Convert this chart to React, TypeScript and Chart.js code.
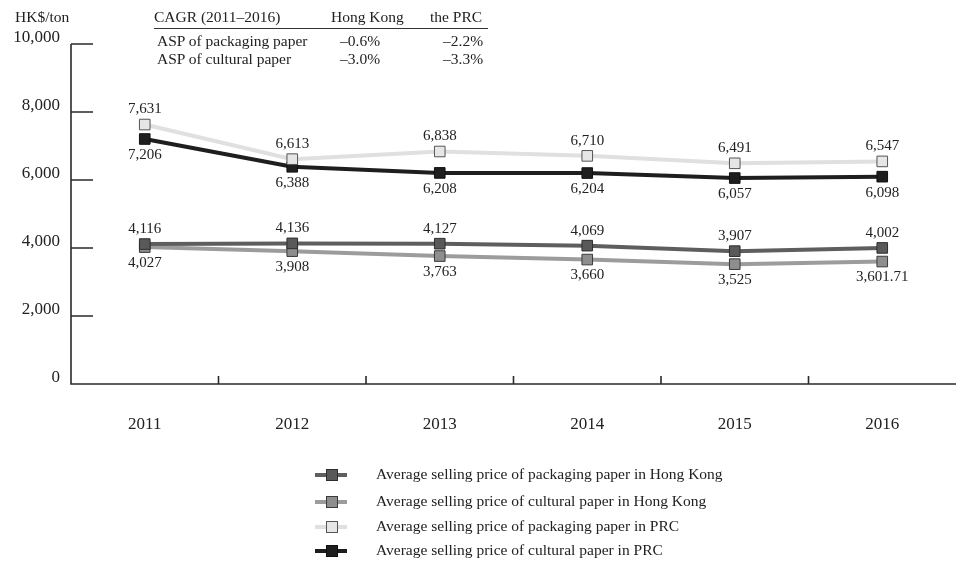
import React, { useEffect, useRef } from "react";
import { Chart, registerables } from "chart.js";

Chart.register(...registerables);

const categories = ["2011", "2012", "2013", "2014", "2015", "2016"];
const packagingHK = [4116, 4136, 4127, 4069, 3907, 4002];
const culturalHK = [4027, 3908, 3763, 3660, 3525, 3601.71];
const packagingPRC = [7631, 6613, 6838, 6710, 6491, 6547];
const culturalPRC = [7206, 6388, 6208, 6204, 6057, 6098];

const seriesNames = [
  "Average selling price of packaging paper in Hong Kong",
  "Average selling price of cultural paper in Hong Kong",
  "Average selling price of packaging paper in PRC",
  "Average selling price of cultural paper in PRC",
];
const yUnit = "HK$/ton";
const yMin = 0;
const yMax = 10000;
const yStep = 2000;

const cagrHeader = ["CAGR (2011–2016)", "Hong Kong", "the PRC"];
const cagrRowLabels = ["ASP of packaging paper", "ASP of cultural paper"];
const cagrHongKong = ["–0.6%", "–3.0%"];
const cagrPRC = ["–2.2%", "–3.3%"];

const SERIF = "'Liberation Serif', 'Times New Roman', serif";

const styles = [
  { line: "#5e5e5e", fill: "#595959", border: "#2e2e2e", above: true },
  { line: "#9c9c9c", fill: "#8e8e8e", border: "#3a3a3a", above: false },
  { line: "#e0e0e0", fill: "#e6e6e6", border: "#555555", above: true },
  { line: "#1e1e1e", fill: "#1e1e1e", border: "#111111", above: false },
];

const fmt = (v: number) => v.toLocaleString("en-US", { maximumFractionDigits: 2 });

const axesPlugin = {
  id: "customAxes",
  beforeDatasetsDraw(chart: any) {
    const { ctx, chartArea, scales } = chart;
    const x = scales.x;
    const y = scales.y;
    ctx.save();
    ctx.strokeStyle = "#2a2a2a";
    ctx.lineWidth = 1.6;
    ctx.beginPath();
    ctx.moveTo(chartArea.left, y.getPixelForValue(yMax));
    ctx.lineTo(chartArea.left, chartArea.bottom);
    ctx.lineTo(chartArea.right, chartArea.bottom);
    y.ticks.forEach((t: any) => {
      const py = y.getPixelForValue(t.value);
      ctx.moveTo(chartArea.left, py);
      ctx.lineTo(chartArea.left + 22, py);
    });
    for (let i = 0; i < categories.length - 1; i++) {
      const px = (x.getPixelForValue(i) + x.getPixelForValue(i + 1)) / 2;
      ctx.moveTo(px, chartArea.bottom);
      ctx.lineTo(px, chartArea.bottom - 8);
    }
    ctx.stroke();
    ctx.restore();
  },
  afterDatasetsDraw(chart: any) {
    const { ctx } = chart;
    ctx.save();
    ctx.font = `15px ${SERIF}`;
    ctx.fillStyle = "#222";
    ctx.textAlign = "center";
    ctx.textBaseline = "middle";
    chart.data.datasets.forEach((ds: any, i: number) => {
      const meta = chart.getDatasetMeta(i);
      meta.data.forEach((pt: any, j: number) => {
        const v = ds.data[j] as number;
        const dy = styles[i].above ? -15 : 16;
        ctx.fillText(fmt(v), pt.x, pt.y + dy);
      });
    });
    ctx.restore();
  },
};

function ChartCanvas() {
  const ref = useRef<HTMLCanvasElement | null>(null);
  useEffect(() => {
    if (!ref.current) return;
    const seriesData = [packagingHK, culturalHK, packagingPRC, culturalPRC];
    const chart = new Chart(ref.current, {
      type: "line",
      data: {
        labels: categories,
        datasets: seriesData.map((d, i) => ({
          label: seriesNames[i],
          data: d,
          borderColor: styles[i].line,
          backgroundColor: styles[i].fill,
          borderWidth: 4,
          pointStyle: "rect",
          pointRadius: 7.5,
          pointBorderWidth: 1,
          pointBackgroundColor: styles[i].fill,
          pointBorderColor: styles[i].border,
          tension: 0,
          fill: false,
        })),
      },
      options: {
        responsive: false,
        animation: false,
        devicePixelRatio: 1,
        layout: { autoPadding: false, padding: { top: 44, left: 0, right: 0, bottom: 0 } },
        plugins: {
          legend: { display: false },
          tooltip: { enabled: false },
          title: { display: false },
        },
        scales: {
          x: {
            type: "category",
            offset: true,
            grid: { display: false, drawTicks: false },
            border: { display: false },
            ticks: {
              color: "#222",
              font: { family: SERIF, size: 17 },
              padding: 30,
              maxRotation: 0,
            },
            afterFit: (scale: any) => {
              scale.height = 178;
              scale.paddingLeft = 0;
              scale.paddingRight = 0;
            },
          },
          y: {
            min: yMin,
            max: yMax,
            grid: { display: false, drawTicks: false },
            border: { display: false },
            ticks: {
              stepSize: yStep,
              color: "#222",
              font: { family: SERIF, size: 17 },
              padding: 11,
              labelOffset: -6,
              callback: (v: any) => fmt(Number(v)),
            },
            afterFit: (scale: any) => {
              scale.width = 71;
            },
          },
        },
      },
      plugins: [axesPlugin],
    } as any);
    return () => chart.destroy();
  }, []);
  return <canvas ref={ref} width={956} height={562} style={{ position: "absolute", left: 0, top: 0 }} />;
}

const textBase: React.CSSProperties = {
  position: "absolute",
  fontFamily: SERIF,
  color: "#222",
  whiteSpace: "nowrap",
  lineHeight: "18px",
};

export default function App() {
  const legendY = [475, 502, 527, 551];
  return (
    <div
      style={{
        position: "fixed",
        left: 0,
        top: 0,
        width: 956,
        height: 562,
        background: "#fff",
        overflow: "hidden",
      }}
    >
      <ChartCanvas />
      <div style={{ ...textBase, left: 15, top: 8, fontSize: 15.5 }}>{yUnit}</div>
      {/* CAGR table */}
      <div style={{ ...textBase, left: 154, top: 8, fontSize: 15.5 }}>{cagrHeader[0]}</div>
      <div style={{ ...textBase, left: 331, top: 8, fontSize: 15.5 }}>{cagrHeader[1]}</div>
      <div style={{ ...textBase, left: 430, top: 8, fontSize: 15.5 }}>{cagrHeader[2]}</div>
      <div style={{ position: "absolute", left: 154, top: 28, width: 334, height: 1, background: "#333" }} />
      {cagrRowLabels.map((lab, i) => (
        <React.Fragment key={lab}>
          <div style={{ ...textBase, left: 157, top: 32 + i * 18, fontSize: 15.5 }}>{lab}</div>
          <div style={{ ...textBase, left: 340, top: 32 + i * 18, fontSize: 15.5 }}>{cagrHongKong[i]}</div>
          <div style={{ ...textBase, left: 443, top: 32 + i * 18, fontSize: 15.5 }}>{cagrPRC[i]}</div>
        </React.Fragment>
      ))}
      {/* Legend */}
      {seriesNames.map((name, i) => (
        <React.Fragment key={name}>
          <div
            style={{
              position: "absolute",
              left: 315,
              top: legendY[i] - 2,
              width: 32,
              height: 4,
              background: styles[i].line,
            }}
          />
          <div
            style={{
              position: "absolute",
              left: 326,
              top: legendY[i] - 6,
              width: 10,
              height: 10,
              background: styles[i].fill,
              border: `1px solid ${styles[i].border}`,
            }}
          />
          <div style={{ ...textBase, left: 376, top: legendY[i] - 10, fontSize: 15.5 }}>{name}</div>
        </React.Fragment>
      ))}
    </div>
  );
}
